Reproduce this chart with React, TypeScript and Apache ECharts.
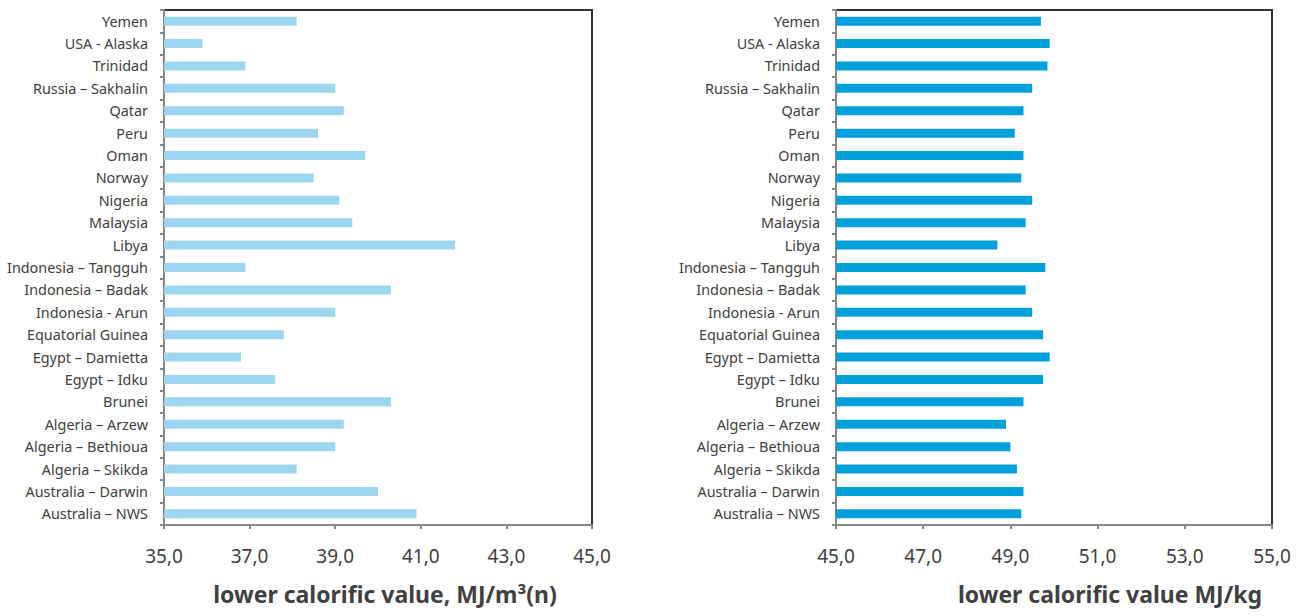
import React, { useEffect, useRef } from "react";
import * as echarts from "echarts";

const categories = [
  "Australia – NWS",
  "Australia – Darwin",
  "Algeria – Skikda",
  "Algeria – Bethioua",
  "Algeria – Arzew",
  "Brunei",
  "Egypt – Idku",
  "Egypt – Damietta",
  "Equatorial Guinea",
  "Indonesia - Arun",
  "Indonesia – Badak",
  "Indonesia – Tangguh",
  "Libya",
  "Malaysia",
  "Nigeria",
  "Norway",
  "Oman",
  "Peru",
  "Qatar",
  "Russia – Sakhalin",
  "Trinidad",
  "USA - Alaska",
  "Yemen",
];

// lower calorific value, MJ/m³(n)
const lcvVolume = [
  40.9, 40.0, 38.1, 39.0, 39.2, 40.3, 37.6, 36.8, 37.8, 39.0, 40.3, 36.9,
  41.8, 39.4, 39.1, 38.5, 39.7, 38.6, 39.2, 39.0, 36.9, 35.9, 38.1,
];

// lower calorific value, MJ/kg
const lcvMass = [
  49.25, 49.3, 49.15, 49.0, 48.9, 49.3, 49.75, 49.9, 49.75, 49.5, 49.35, 49.8,
  48.7, 49.35, 49.5, 49.25, 49.3, 49.1, 49.3, 49.5, 49.85, 49.9, 49.7,
];

const leftTicks = { min: 35, max: 45, interval: 2 };
const rightTicks = { min: 45, max: 55, interval: 2 };

const leftTitle = "lower calorific value, MJ/m³(n)";
const rightTitle = "lower calorific value MJ/kg";

const FONT = "'Noto Sans', sans-serif";
const TEXT = "#404040";
const AXIS = "#878787";

export default function App() {
  const ref = useRef<HTMLDivElement>(null);

  useEffect(() => {
    document.body.style.margin = "0";
    if (!ref.current) return;
    const chart = echarts.init(ref.current, null, { renderer: "svg" });

    const fmt = (v: number) => v.toFixed(1).replace(".", ",");

    const makeX = (idx: number, t: { min: number; max: number; interval: number }) => ({
      type: "value" as const,
      gridIndex: idx,
      min: t.min,
      max: t.max,
      interval: t.interval,
      axisLine: { show: true, lineStyle: { color: AXIS, width: 2 } },
      axisTick: { show: true, length: 4, lineStyle: { color: AXIS, width: 2 } },
      splitLine: { show: false },
      axisLabel: {
        color: TEXT,
        fontFamily: FONT,
        fontSize: 19,
        margin: 21,
        formatter: fmt,
        showMaxLabel: true,
        showMinLabel: true,
      },
    });

    const makeY = (idx: number) => ({
      type: "category" as const,
      gridIndex: idx,
      data: categories,
      axisLine: { show: true, lineStyle: { color: AXIS, width: 2 } },
      axisTick: { show: true, length: 4, lineStyle: { color: AXIS, width: 2 } },
      axisLabel: {
        color: TEXT,
        fontFamily: FONT,
        fontSize: 14.4,
        margin: 16,
        interval: 0,
      },
      splitLine: { show: false },
    });

    chart.setOption({
      animation: false,
      backgroundColor: "#ffffff",
      grid: [
        {
          left: 164,
          top: 10,
          width: 428,
          height: 515,
          show: true,
          borderColor: "#333333",
          borderWidth: 2,
          containLabel: false,
        },
        {
          left: 836,
          top: 10,
          width: 436,
          height: 515,
          show: true,
          borderColor: "#333333",
          borderWidth: 2,
          containLabel: false,
        },
      ],
      xAxis: [makeX(0, leftTicks), makeX(1, rightTicks)],
      yAxis: [makeY(0), makeY(1)],
      series: [
        {
          type: "bar",
          xAxisIndex: 0,
          yAxisIndex: 0,
          data: lcvVolume,
          barWidth: 9,
          itemStyle: { color: "#9dd6f0" },
        },
        {
          type: "bar",
          xAxisIndex: 1,
          yAxisIndex: 1,
          data: lcvMass,
          barWidth: 9,
          itemStyle: { color: "#00a0da" },
        },
      ],
      graphic: [
        {
          type: "text",
          x: 385,
          y: 594,
          style: {
            text: leftTitle,
            fontFamily: FONT,
            fontSize: 23,
            fontWeight: "bold",
            fill: TEXT,
            align: "center",
            verticalAlign: "middle",
          },
        },
        {
          type: "text",
          x: 1110,
          y: 594,
          style: {
            text: rightTitle,
            fontFamily: FONT,
            fontSize: 23,
            fontWeight: "bold",
            fill: TEXT,
            align: "center",
            verticalAlign: "middle",
          },
        },
      ],
    });

    return () => {
      chart.dispose();
    };
  }, []);

  return <div ref={ref} style={{ width: 1305, height: 616 }} />;
}
